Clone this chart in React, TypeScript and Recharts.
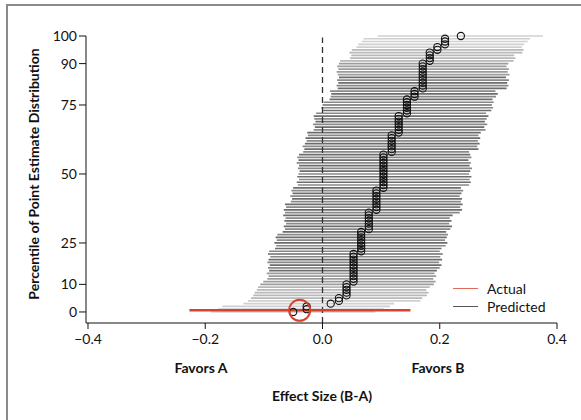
import React from 'react';
import { ComposedChart, XAxis, YAxis, Scatter, ReferenceLine } from 'recharts';

// one row per percentile of the point-estimate distribution
const PERCENTILES = [
  0, 1, 2, 3, 4, 5, 6, 7, 8, 9, 10, 11, 12, 13, 14, 15, 16, 17, 18, 19, 20,
  21, 22, 23, 24, 25, 26, 27, 28, 29, 30, 31, 32, 33, 34, 35, 36, 37, 38, 39, 40,
  41, 42, 43, 44, 45, 46, 47, 48, 49, 50, 51, 52, 53, 54, 55, 56, 57, 58, 59, 60,
  61, 62, 63, 64, 65, 66, 67, 68, 69, 70, 71, 72, 73, 74, 75, 76, 77, 78, 79, 80,
  81, 82, 83, 84, 85, 86, 87, 88, 89, 90, 91, 92, 93, 94, 95, 96, 97, 98, 99, 100,
];

const ESTIMATES = [
  -0.05, -0.027, -0.027, 0.014, 0.028, 0.028,
  0.041, 0.041, 0.041, 0.041, 0.041,
  0.053, 0.053, 0.053, 0.053, 0.053, 0.053, 0.053, 0.053, 0.053, 0.053, 0.053,
  0.066, 0.066, 0.066, 0.066, 0.066, 0.066, 0.066, 0.066,
  0.079, 0.079, 0.079, 0.079, 0.079, 0.079, 0.079,
  0.092, 0.092, 0.092, 0.092, 0.092, 0.092, 0.092, 0.092,
  0.104, 0.104, 0.104, 0.104, 0.104, 0.104, 0.104, 0.104, 0.104, 0.104, 0.104, 0.104, 0.104,
  0.118, 0.118, 0.118, 0.118, 0.118, 0.118, 0.118,
  0.13, 0.13, 0.13, 0.13, 0.13, 0.13, 0.13,
  0.144, 0.144, 0.144, 0.144, 0.144, 0.144,
  0.157, 0.157, 0.157,
  0.171, 0.171, 0.171, 0.171, 0.171, 0.171, 0.171, 0.171, 0.171, 0.171,
  0.183, 0.183, 0.183, 0.183,
  0.196, 0.196,
  0.209, 0.209, 0.209,
  0.236,
];

const LOWER = [
  -0.19, -0.178, -0.171, -0.135, -0.127, -0.122, -0.118, -0.116, -0.112, -0.11,
  -0.106, -0.101, -0.094, -0.092, -0.095, -0.091, -0.093, -0.09, -0.094, -0.092,
  -0.089, -0.093, -0.091, -0.081, -0.079, -0.082, -0.078, -0.08, -0.077, -0.068,
  -0.064, -0.066, -0.062, -0.065, -0.063, -0.067, -0.064, -0.066, -0.062, -0.064,
  -0.054, -0.052, -0.055, -0.051, -0.053, -0.05, -0.042, -0.044, -0.04, -0.043,
  -0.041, -0.039, -0.042, -0.04, -0.044, -0.041, -0.043, -0.04, -0.033, -0.031,
  -0.034, -0.03, -0.027, -0.029, -0.025, -0.026, -0.015, -0.013, -0.016, -0.012,
  -0.014, -0.015, -0.011, 0.001, -0.002, 0.0, 0.002, 0.012, 0.014, 0.015,
  0.013, 0.026, 0.024, 0.027, 0.025, 0.028, 0.026, 0.024, 0.027, 0.025,
  0.028, 0.03, 0.047, 0.049, 0.046, 0.05, 0.058, 0.061, 0.067, 0.07,
  0.094,
];

const UPPER = [
  0.09, 0.105, 0.115, 0.122, 0.167, 0.17, 0.178, 0.181, 0.177, 0.183,
  0.19, 0.193, 0.189, 0.194, 0.191, 0.195, 0.2, 0.203, 0.199, 0.204,
  0.201, 0.205, 0.2, 0.203, 0.21, 0.213, 0.209, 0.212, 0.214, 0.211,
  0.218, 0.221, 0.216, 0.22, 0.217, 0.222, 0.234, 0.238, 0.235, 0.239,
  0.236, 0.238, 0.234, 0.237, 0.24, 0.236, 0.25, 0.253, 0.251, 0.254,
  0.25, 0.252, 0.255, 0.251, 0.253, 0.249, 0.254, 0.252, 0.25, 0.266,
  0.264, 0.268, 0.265, 0.269, 0.266, 0.27, 0.278, 0.276, 0.281, 0.277,
  0.28, 0.283, 0.279, 0.288, 0.291, 0.289, 0.292, 0.29, 0.296, 0.299,
  0.295, 0.314, 0.317, 0.315, 0.318, 0.313, 0.319, 0.316, 0.318, 0.314,
  0.317, 0.326, 0.329, 0.327, 0.341, 0.343, 0.34, 0.344, 0.35, 0.354,
  0.376,
];

// the actual trial result
const ACTUAL_ESTIMATE = -0.039;
const ACTUAL_LOWER = -0.227;
const ACTUAL_UPPER = 0.15;
const ACTUAL_PERCENTILE = 0.6;

const Y_TICKS = [0, 10, 25, 50, 75, 90, 100];
const X_TICKS = [-0.4, -0.2, 0, 0.2, 0.4];

const FONT = 'Lato, "Open Sans", sans-serif';
const RED = '#d9412e';

const rows = PERCENTILES.map((p, i) => ({
  x: ESTIMATES[i],
  y: p,
  low: LOWER[i],
  high: UPPER[i],
}));

const actual = [{ x: ACTUAL_ESTIMATE, y: ACTUAL_PERCENTILE }];

function shade(p: number) {
  const d = Math.abs(p - 50);
  if (d >= 46) return '#d0d0d0';
  if (d >= 41) return '#b8b8b8';
  if (d >= 36) return '#9c9c9c';
  return p % 2 ? '#6c6c6c' : '#888888';
}

const fmtX = (v: number) => {
  if (v === 0) return '0.0';
  return (v < 0 ? '\u2212' : '') + Math.abs(v).toFixed(1);
};

const Ring = (props: any) => (
  <circle cx={props.cx} cy={props.cy} r={3.6} fill="none" stroke="#111" strokeWidth={1.1} />
);

const BigRing = (props: any) => (
  <circle cx={props.cx} cy={props.cy} r={10.5} fill="none" stroke={RED} strokeWidth={2} />
);

const tickStyle = { fontSize: 14, fontFamily: FONT, fill: '#111' };

const bold = {
  position: 'absolute' as const,
  transform: 'translate(-50%, -50%)',
  fontWeight: 700,
  fontSize: 14,
  color: '#111',
  whiteSpace: 'nowrap' as const,
};

export default function App() {
  return (
    <div
      style={{
        position: 'absolute',
        left: 0,
        top: 0,
        width: 581,
        height: 420,
        overflow: 'hidden',
        background: '#fff',
        fontFamily: FONT,
      }}
    >
      <div
        style={{
          position: 'absolute',
          left: 6,
          top: 4,
          width: 700,
          height: 600,
          borderTop: '2px solid #8a8a8a',
          borderLeft: '2px solid #8a8a8a',
        }}
      />
      <div style={{ position: 'absolute', left: 0, top: 0 }}>
        <ComposedChart
          width={581}
          height={420}
          margin={{ top: 36, right: 24, bottom: 67, left: 0 }}
        >
          <XAxis
            type="number"
            dataKey="x"
            domain={[-0.4034, 0.4]}
            ticks={X_TICKS}
            tickFormatter={fmtX}
            tick={tickStyle}
            tickSize={6}
            tickMargin={5}
            height={30}
            stroke="#111"
            interval={0}
          />
          <YAxis
            type="number"
            dataKey="y"
            domain={[-4, 100]}
            ticks={Y_TICKS}
            tick={tickStyle}
            tickSize={7}
            width={86}
            stroke="#111"
            interval={0}
          />
          {rows.map((r) => (
            <ReferenceLine
              key={`row-${r.y}`}
              segment={[
                { x: r.low, y: r.y },
                { x: r.high, y: r.y },
              ]}
              stroke={shade(r.y)}
              strokeWidth={1.7}
            />
          ))}
          <ReferenceLine
            segment={[
              { x: 0, y: -4 },
              { x: 0, y: 99.5 },
            ]}
            stroke="#333"
            strokeWidth={1.3}
            strokeDasharray="6 4"
          />
          <ReferenceLine
            segment={[
              { x: ACTUAL_LOWER, y: ACTUAL_PERCENTILE },
              { x: ACTUAL_UPPER, y: ACTUAL_PERCENTILE },
            ]}
            stroke={RED}
            strokeWidth={2.5}
          />
          <Scatter data={rows} shape={Ring} isAnimationActive={false} />
          <Scatter data={actual} shape={BigRing} isAnimationActive={false} />
        </ComposedChart>
      </div>

      <div
        style={{
          ...bold,
          left: 33,
          top: 174,
          transform: 'translate(-50%, -50%) rotate(-90deg)',
          fontSize: 14,
        }}
      >
        Percentile of Point Estimate Distribution
      </div>

      <div style={{ ...bold, left: 201, top: 367 }}>Favors A</div>
      <div style={{ ...bold, left: 438, top: 367 }}>Favors B</div>
      <div style={{ ...bold, left: 322, top: 395 }}>Effect Size (B-A)</div>

      {/* legend */}
      <div style={{ position: 'absolute', left: 453, top: 279, fontSize: 14, color: '#111' }}>
        <div style={{ display: 'flex', alignItems: 'center', height: 18 }}>
          <span style={{ display: 'inline-block', width: 25, height: 0, borderTop: '1.5px solid #e06a5c', marginRight: 9 }} />
          Actual
        </div>
        <div style={{ display: 'flex', alignItems: 'center', height: 18 }}>
          <span style={{ display: 'inline-block', width: 25, height: 0, borderTop: '1.5px solid #555', marginRight: 9 }} />
          Predicted
        </div>
      </div>
    </div>
  );
}
